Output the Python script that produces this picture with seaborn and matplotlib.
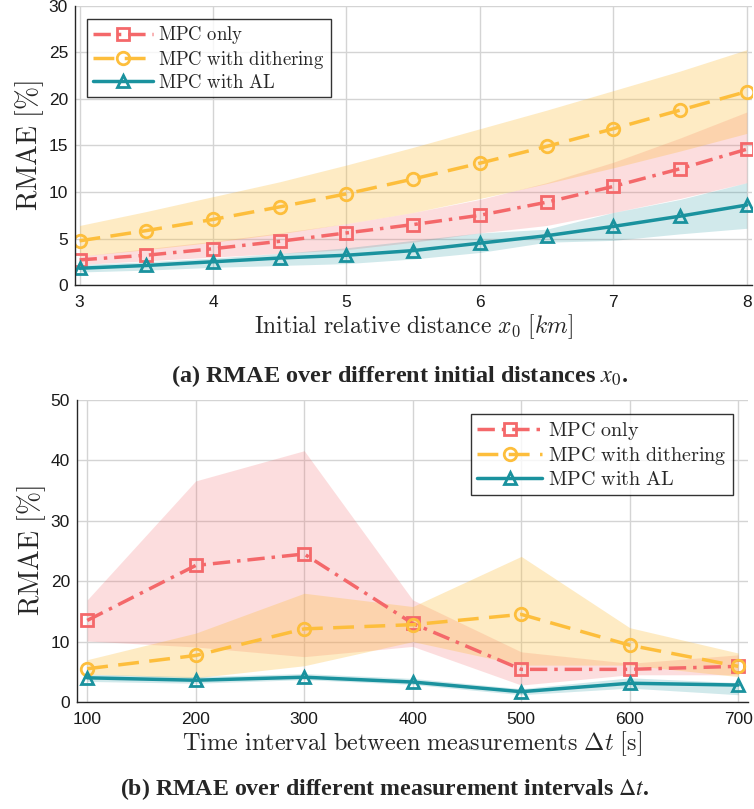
import numpy as np
import pandas as pd
import matplotlib
matplotlib.use("Agg")
import matplotlib.pyplot as plt
import seaborn as sns
from matplotlib.lines import Line2D

# ---- data: (a) RMAE vs initial distance x0 ----
x0 = [3, 3.5, 4, 4.5, 5, 5.5, 6, 6.5, 7, 7.5, 8]
a_mpc = [2.7, 3.2, 3.9, 4.7, 5.6, 6.5, 7.5, 8.9, 10.6, 12.5, 14.6]
a_mpc_lo = [2.2, 2.6, 3.0, 3.4, 3.8, 4.6, 5.6, 6.4, 7.8, 9.3, 11.0]
a_mpc_hi = [3.1, 3.9, 4.7, 5.6, 6.6, 7.8, 9.2, 11.0, 13.2, 15.8, 18.6]
a_dith = [4.75, 5.85, 7.05, 8.4, 9.8, 11.4, 13.1, 14.9, 16.8, 18.8, 20.8]
a_dith_lo = [3.1, 3.8, 4.6, 5.5, 6.6, 7.8, 9.3, 10.9, 12.6, 14.4, 16.3]
a_dith_hi = [6.4, 7.9, 9.5, 11.1, 12.9, 14.8, 16.8, 18.8, 20.9, 23.0, 25.3]
a_al = [1.8, 2.1, 2.5, 2.9, 3.2, 3.7, 4.5, 5.3, 6.3, 7.4, 8.6]
a_al_lo = [1.4, 1.6, 1.9, 2.1, 2.3, 2.8, 3.5, 4.6, 4.8, 5.5, 6.1]
a_al_hi = [2.2, 2.5, 2.9, 3.4, 4.0, 4.8, 5.6, 6.0, 7.8, 9.2, 11.0]

# ---- data: (b) RMAE vs measurement interval dt ----
dt = [100, 200, 300, 400, 500, 600, 700]
b_mpc = [13.5, 22.6, 24.5, 13.0, 5.4, 5.4, 5.9]
b_mpc_lo = [10.1, 9.1, 7.5, 9.2, 2.8, 4.5, 4.5]
b_mpc_hi = [16.9, 36.6, 41.6, 16.9, 8.3, 6.4, 7.8]
b_dith = [5.5, 7.7, 12.1, 12.8, 14.5, 9.4, 5.9]
b_dith_lo = [4.6, 4.0, 6.0, 10.0, 6.1, 6.1, 4.2]
b_dith_hi = [7.0, 11.4, 18.0, 15.8, 24.1, 12.3, 8.1]
b_al = [4.0, 3.6, 4.1, 3.3, 1.7, 3.1, 2.8]
b_al_lo = [3.4, 3.1, 3.7, 2.9, 1.2, 2.3, 1.2]
b_al_hi = [4.6, 4.2, 4.7, 3.9, 2.2, 4.0, 3.2]

labels = ["MPC only", "MPC with dithering", "MPC with AL"]
colors = {"MPC only": "#F4686A", "MPC with dithering": "#FDBE3C", "MPC with AL": "#1A929E"}
band_alpha = {"MPC only": 0.22, "MPC with dithering": 0.30, "MPC with AL": 0.20}
dashes = {"MPC only": (5, 2, 1, 2), "MPC with dithering": (6, 3), "MPC with AL": ""}
markers = {"MPC only": "s", "MPC with dithering": "o", "MPC with AL": "^"}

sns.set_style("white")
plt.rcParams["mathtext.fontset"] = "cm"
plt.rcParams["font.family"] = ["Liberation Sans", "DejaVu Sans"]


def to_long(x, series):
    frames = []
    for lab, vals in zip(labels, series):
        frames.append(pd.DataFrame({"x": x, "y": vals, "method": lab}))
    return pd.concat(frames, ignore_index=True)


def draw(ax, x, means, lows, highs):
    for lab, lo, hi in zip(labels, lows, highs):
        ax.fill_between(x, lo, hi, color=colors[lab], alpha=band_alpha[lab], lw=0)
    df = to_long(x, means)
    sns.lineplot(data=df, x="x", y="y", hue="method", style="method",
                 palette=colors, dashes=dashes, markers=markers,
                 markersize=9, markerfacecolor="none", markeredgewidth=2.0,
                 linewidth=2.5, ax=ax, legend=False)
    # seaborn sets markeredgecolor per line; make the markers hollow
    for line, lab in zip(ax.get_lines(), labels):
        line.set_markeredgecolor(colors[lab])
        line.set_markerfacecolor("none")
    ax.grid(True, color="#d4d4d4", lw=1.0)
    ax.set_axisbelow(True)
    for s in ["top", "right"]:
        ax.spines[s].set_visible(False)
    for s in ["left", "bottom"]:
        ax.spines[s].set_color("#262626")
        ax.spines[s].set_linewidth(1.0)
    ax.tick_params(direction="in", length=4, width=1, colors="#262626",
                   labelsize=12.5, labelcolor="#1a1a1a")
    ax.tick_params(axis="x", pad=7)
    ax.tick_params(axis="y", pad=5)
    ax.set_ylabel(r"$\mathrm{RMAE}\ [\%]$", fontsize=20, labelpad=2)


def legend(ax, loc, anchor, size):
    handles = [Line2D([], [], color=colors[l], lw=2.5,
                      dashes=dashes[l] if dashes[l] else (None, None),
                      marker=markers[l], markersize=9, markerfacecolor="none",
                      markeredgewidth=2.0) for l in labels]
    texts = [r"$\mathrm{" + l.replace(" ", r"\ ") + "}$" for l in labels]
    leg = ax.legend(handles, texts, loc=loc, bbox_to_anchor=anchor, fontsize=size,
                    frameon=True, fancybox=False, edgecolor="black",
                    handlelength=3.2, handletextpad=0.3, borderpad=0.3,
                    labelspacing=0.15, borderaxespad=0)
    leg.get_frame().set_linewidth(1.0)


fig = plt.figure(figsize=(7.54, 8.09), dpi=100)

# (a)
ax1 = fig.add_axes([0.0995, 0.6477, 0.898, 0.3449])
draw(ax1, x0, [a_mpc, a_dith, a_al], [a_mpc_lo, a_dith_lo, a_al_lo],
     [a_mpc_hi, a_dith_hi, a_al_hi])
ax1.set_xlim(2.966, 8.04)
ax1.set_ylim(0, 30)
ax1.set_xticks([3, 4, 5, 6, 7, 8])
ax1.set_yticks([0, 5, 10, 15, 20, 25, 30])
ax1.set_xlabel(r"$\mathrm{Initial\ relative\ distance}\ x_0\ [km]$", fontsize=17, labelpad=2)
legend(ax1, "upper left", (0.018, 0.955), 13.5)

# (b)
ax2 = fig.add_axes([0.102, 0.1323, 0.89, 0.3733])
draw(ax2, dt, [b_mpc, b_dith, b_al], [b_mpc_lo, b_dith_lo, b_al_lo],
     [b_mpc_hi, b_dith_hi, b_al_hi])
ax2.set_xlim(90.5, 709)
ax2.set_ylim(0, 50)
ax2.set_xticks(dt)
ax2.set_yticks([0, 10, 20, 30, 40, 50])
ax2.set_xlabel(r"$\mathrm{Time\ interval\ between\ measurements}\ \Delta t\ [\mathrm{s}]$",
               fontsize=17.5, labelpad=2)
legend(ax2, "upper right", (0.977, 0.955), 14.5)

# captions
fig.text(400 / 754, 1 - 376 / 809, r"(a) RMAE over different initial distances $x_0$.",
         ha="center", va="center", fontsize=17.5, fontweight="bold",
         family="Liberation Serif", math_fontfamily="stix")
fig.text(385 / 754, 1 - 789 / 809, r"(b) RMAE over different measurement intervals $\Delta t$.",
         ha="center", va="center", fontsize=17.2, fontweight="bold",
         family="Liberation Serif", math_fontfamily="stix")

fig.savefig("out.png", dpi=100)
